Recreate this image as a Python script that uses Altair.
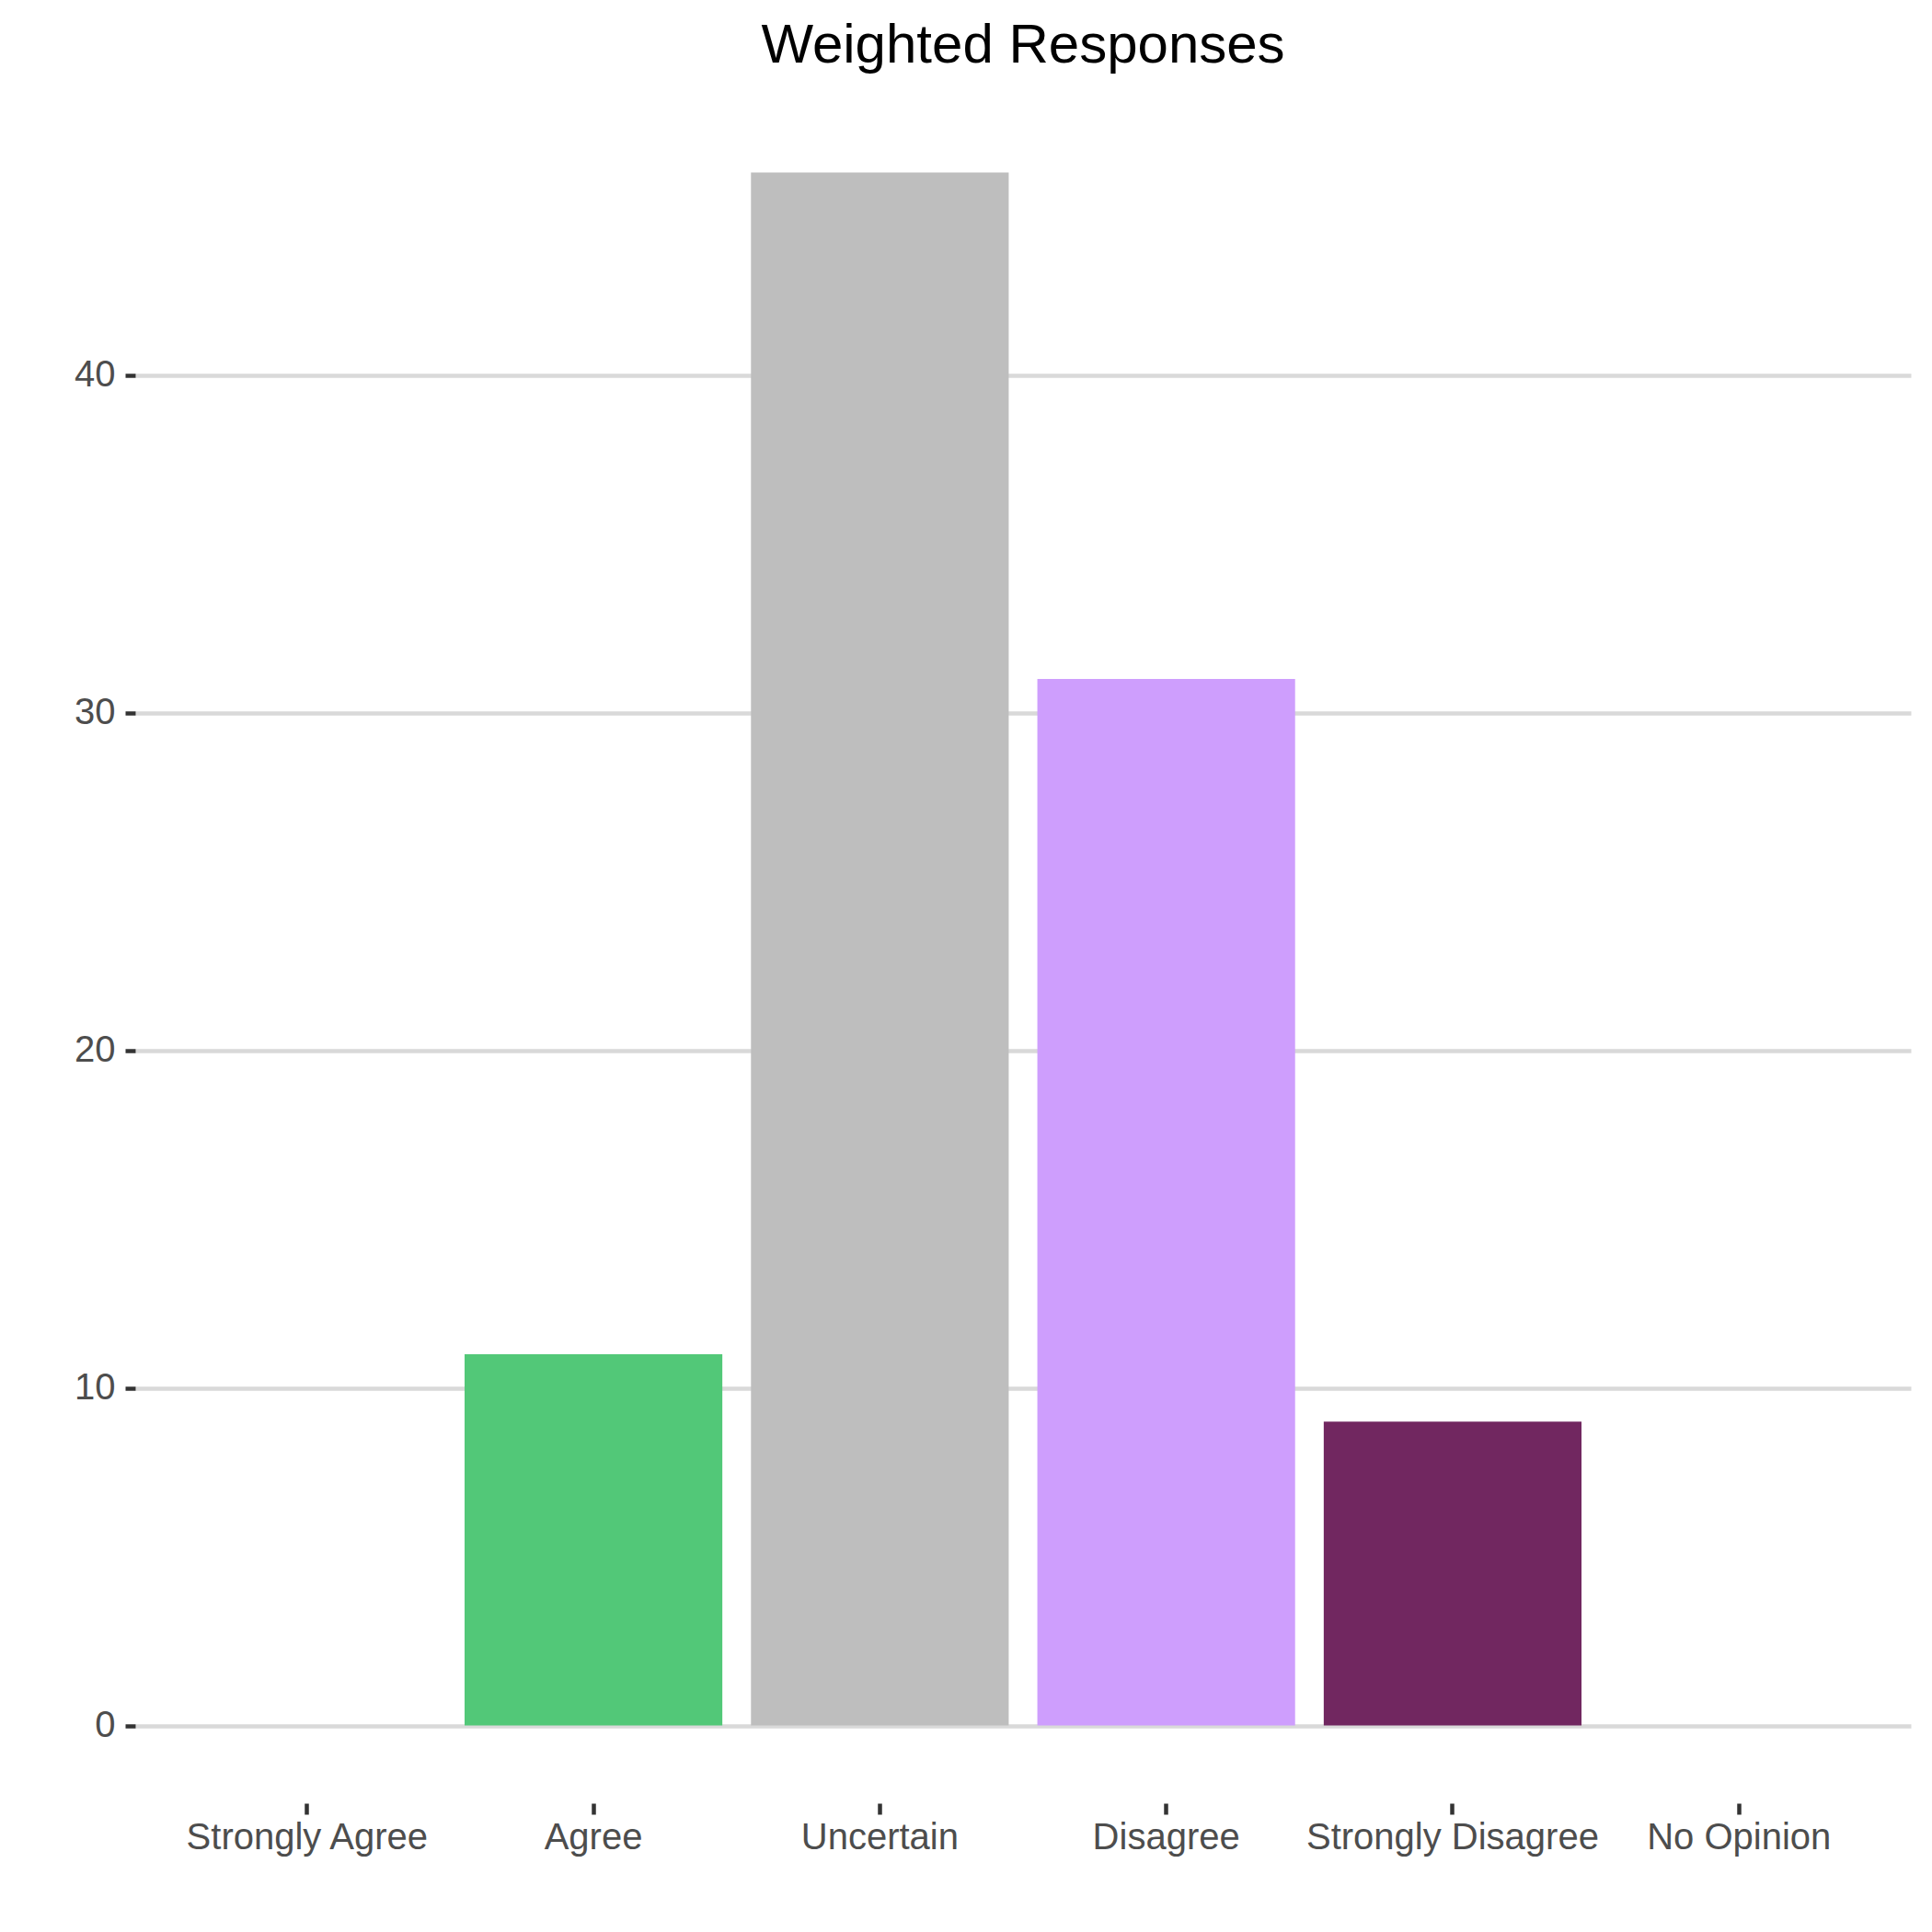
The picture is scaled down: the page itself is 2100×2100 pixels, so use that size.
import altair as alt
import pandas as pd

categories = ["Strongly Agree", "Agree", "Uncertain", "Disagree", "Strongly Disagree", "No Opinion"]
values = [0, 11, 46, 31, 9, 0]
colors = ["#1A9850", "#52C878", "#BEBEBE", "#CE9EFD", "#712760", "#FFFFFF"]
y_ticks = [0, 10, 20, 30, 40]

df = pd.DataFrame({"category": categories, "value": values})

FONT = "Liberation Sans"

chart = (
    alt.Chart(df)
    .mark_bar()
    .encode(
        x=alt.X(
            "category:N",
            sort=categories,
            scale=alt.Scale(paddingInner=0.1, paddingOuter=0.15),
            axis=alt.Axis(
                title=None,
                labelAngle=0,
                domain=False,
                grid=False,
                ticks=True,
                tickSize=12,
                tickWidth=4.5,
                tickColor="#333333",
                labelFontSize=40,
                labelColor="#4D4D4D",
                labelFont=FONT,
                labelPadding=5,
                labelLimit=1000,
                labelOverlap=False,
            ),
        ),
        y=alt.Y(
            "value:Q",
            scale=alt.Scale(domain=[-2.3, 48.3], nice=False, zero=False),
            axis=alt.Axis(
                title=None,
                values=y_ticks,
                domain=False,
                grid=True,
                gridColor="#D9D9D9",
                gridWidth=4.5,
                tickSize=11,
                tickWidth=4.5,
                tickColor="#333333",
                labelFontSize=40,
                labelColor="#4D4D4D",
                labelFont=FONT,
                labelPadding=11,
                minExtent=139,
            ),
        ),
        y2=alt.datum(0),
        color=alt.Color(
            "category:N",
            scale=alt.Scale(domain=categories, range=colors),
            legend=None,
        ),
    )
    .properties(
        width=1930,
        height=1857,
        title=alt.TitleParams(
            "Weighted Responses",
            fontSize=60,
            font=FONT,
            fontWeight="normal",
            color="#000000",
            anchor="middle",
            frame="group",
            offset=22,
        ),
        padding={"left": 0, "top": 12, "right": 10, "bottom": 10},
        background="white",
    )
    .configure_view(stroke=None)
)

chart.save("out.html", embed_options={"renderer": "svg", "actions": False})
